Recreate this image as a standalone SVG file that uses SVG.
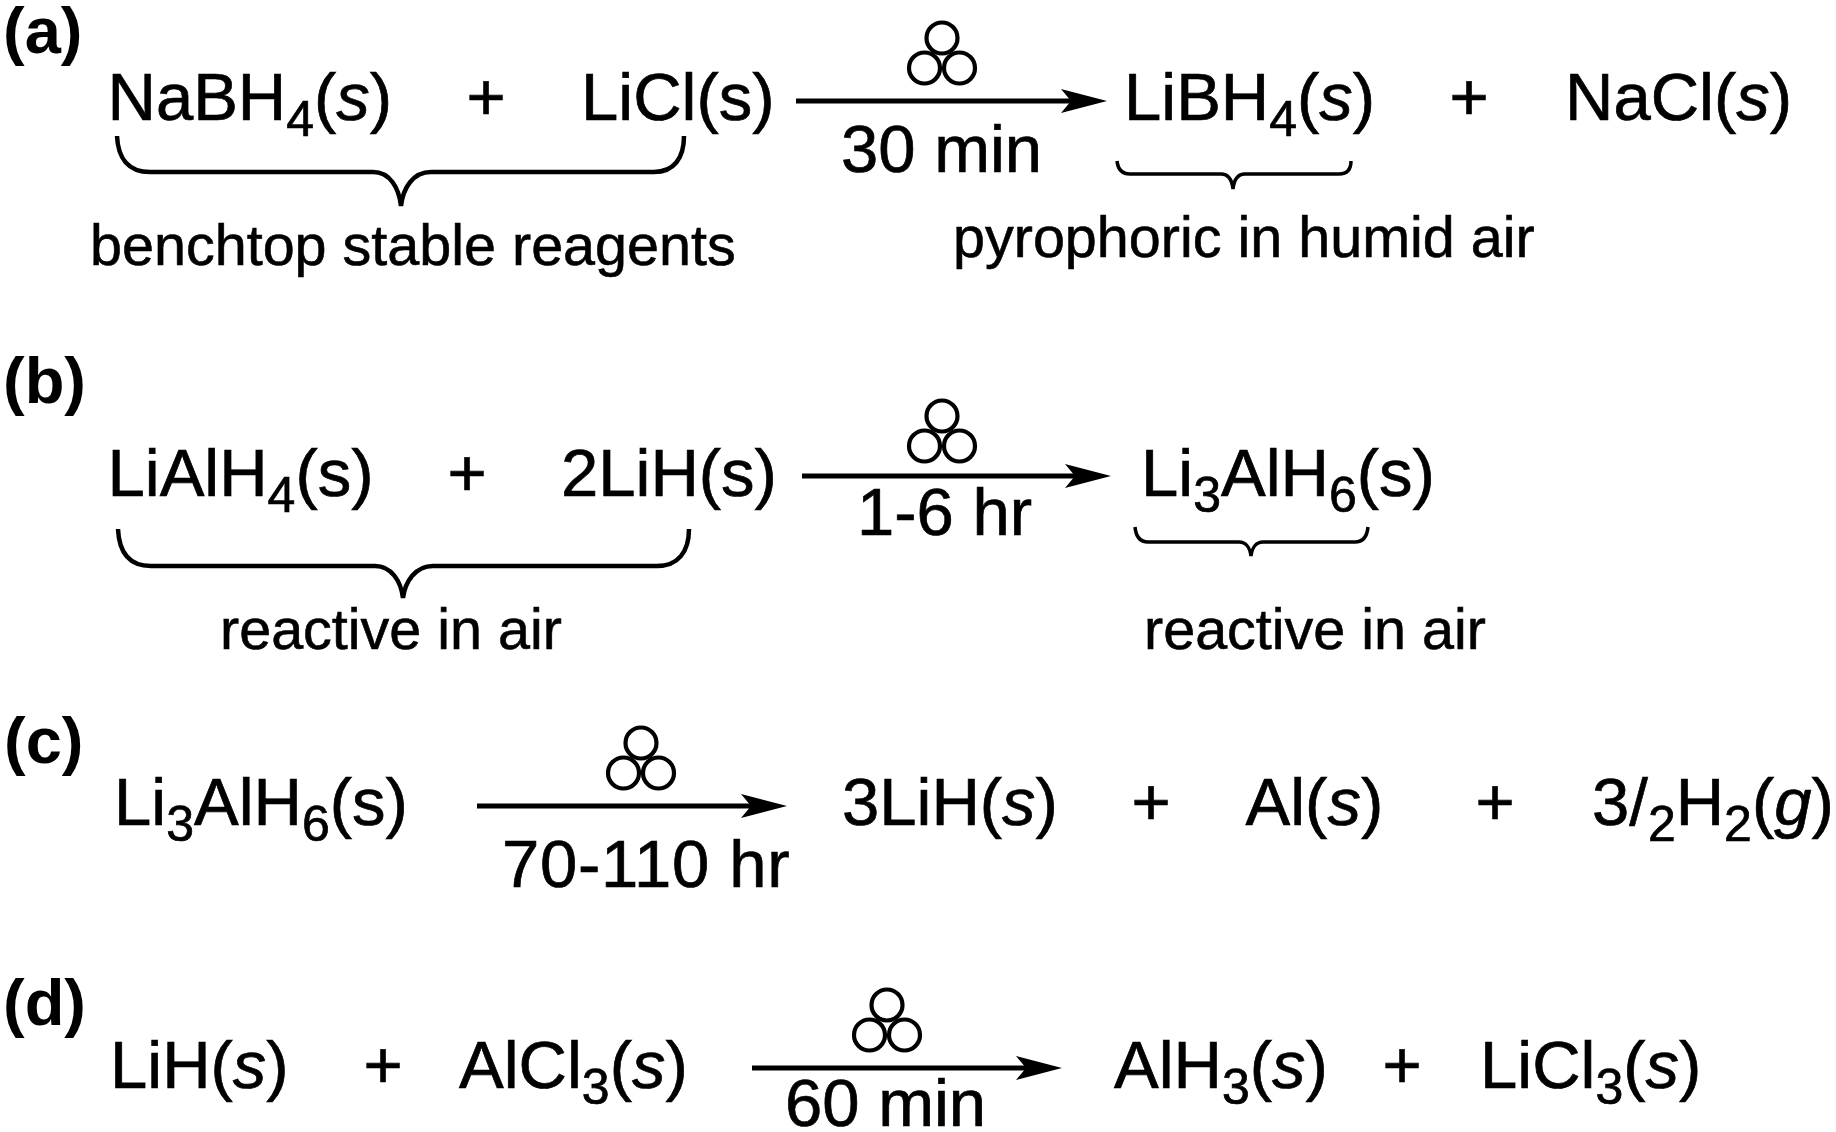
<svg xmlns="http://www.w3.org/2000/svg" width="1836" height="1132" viewBox="0 0 1836 1132">
<style>
text{font-family:"Liberation Sans",Arial,sans-serif;fill:#000}
.m{font-size:67px;stroke:#000;stroke-width:.7}
.n{font-size:57.5px;stroke:#000;stroke-width:.6}
.l{font-size:65px;font-weight:bold}
.sub{font-size:50px}
.i{font-style:italic}
.arrow{fill:none;stroke:#000;stroke-width:5;marker-end:url(#head)}
.brace{fill:none;stroke:#000;stroke-width:4.5}
.brace.thin{stroke-width:3.5}
.heat circle{fill:none;stroke:#000;stroke-width:4.2}
</style>
<defs>
<marker id="head" markerUnits="userSpaceOnUse" markerWidth="46" markerHeight="24" viewBox="0 0 46 24" refX="16" refY="12" orient="auto"><path d="M46,12 L0,0 L10,12 L0,24Z" fill="#000"/></marker>
<g id="heat" class="heat"><circle cx="0" cy="-21" r="15.5"/><circle cx="-17.5" cy="9" r="15.5"/><circle cx="17.5" cy="9" r="15.5"/></g>
</defs>
<rect width="1836" height="1132" fill="#fff"/>
<g id="connectors">
<path class="arrow" d="M796,101H1077"/>
<path class="arrow" d="M802,476H1081"/>
<path class="arrow" d="M477,806H757"/>
<path class="arrow" d="M752,1068H1032"/>
<path class="brace" d="M117,136C118,158 128,172 150,172H373C390,172 399,188 401,206C403,188 413,172 431,172H654C674,172 684,158 684,136"/>
<path class="brace thin" d="M1117,161C1118,170 1122,174 1130,174H1221C1228,174 1232,180 1233,189C1234,180 1238,174 1245,174H1339C1347,174 1351,170 1351,161"/>
<path class="brace" d="M118,529C119,552 129,566 151,566H375C392,566 401,582 403,598C405,582 415,566 433,566H657C678,566 689,552 689,529"/>
<path class="brace thin" d="M1135,527C1136,537 1140,542 1148,542H1239C1246,542 1250,548 1251,556C1252,548 1256,542 1263,542H1355C1363,542 1367,537 1368,527"/>
</g>
<g id="label-a"><text class="l" x="3" y="53">(a)</text></g>
<g id="label-b"><text class="l" x="3" y="403">(b)</text></g>
<g id="label-c"><text class="l" x="4" y="763">(c)</text></g>
<g id="label-d"><text class="l" x="3" y="1025">(d)</text></g>

<g id="a-nabh4"><text class="m" x="107.5" y="119.5">NaBH<tspan class="sub" dy="16">4</tspan><tspan dy="-16">(</tspan><tspan class="i">s</tspan>)</text></g>
<g id="a-plus1"><text class="m" x="486" y="119.5" text-anchor="middle">+</text></g>
<g id="a-licl"><text class="m" x="581" y="119.5">LiCl(s)</text></g>
<g id="a-heat"><use href="#heat" x="942" y="59"/></g>
<g id="a-time"><text class="m" x="841" y="172">30 min</text></g>
<g id="a-libh4"><text class="m" x="1124" y="119.5">LiBH<tspan class="sub" dy="16">4</tspan><tspan dy="-16">(</tspan><tspan class="i">s</tspan>)</text></g>
<g id="a-plus2"><text class="m" x="1469" y="119.5" text-anchor="middle">+</text></g>
<g id="a-nacl"><text class="m" x="1565" y="119.5">NaCl(<tspan class="i">s</tspan>)</text></g>
<g id="a-note1"><text class="n" x="90" y="265">benchtop stable reagents</text></g>
<g id="a-note2"><text class="n" x="953" y="257">pyrophoric in humid air</text></g>

<g id="b-lialh4"><text class="m" x="107.5" y="496">LiAlH<tspan class="sub" dy="16">4</tspan><tspan dy="-16">(s)</tspan></text></g>
<g id="b-plus"><text class="m" x="467" y="496" text-anchor="middle">+</text></g>
<g id="b-lih"><text class="m" x="561" y="496">2LiH(s)</text></g>
<g id="b-heat"><use href="#heat" x="942" y="437"/></g>
<g id="b-time"><text class="m" x="857" y="535">1-6 hr</text></g>
<g id="b-li3alh6"><text class="m" x="1141" y="496">Li<tspan class="sub" dy="16">3</tspan><tspan dy="-16">AlH</tspan><tspan class="sub" dy="16">6</tspan><tspan dy="-16">(s)</tspan></text></g>
<g id="b-note1"><text class="n" x="220" y="649">reactive in air</text></g>
<g id="b-note2"><text class="n" x="1144" y="649">reactive in air</text></g>

<g id="c-li3alh6"><text class="m" x="114" y="825">Li<tspan class="sub" dy="16">3</tspan><tspan dy="-16">AlH</tspan><tspan class="sub" dy="16">6</tspan><tspan dy="-16">(s)</tspan></text></g>
<g id="c-heat"><use href="#heat" x="641" y="764"/></g>
<g id="c-time"><text class="m" x="502" y="887" letter-spacing=".7">70-110 hr</text></g>
<g id="c-lih"><text class="m" x="842" y="825">3LiH(<tspan class="i">s</tspan>)</text></g>
<g id="c-plus1"><text class="m" x="1151" y="825" text-anchor="middle">+</text></g>
<g id="c-al"><text class="m" x="1245.5" y="825">Al(<tspan class="i">s</tspan>)</text></g>
<g id="c-plus2"><text class="m" x="1495" y="825" text-anchor="middle">+</text></g>
<g id="c-h2"><text class="m" x="1592" y="825">3/<tspan class="sub" dy="16">2</tspan><tspan dy="-16">H</tspan><tspan class="sub" dy="16">2</tspan><tspan dy="-16">(</tspan><tspan class="i">g</tspan>)</text></g>

<g id="d-lih"><text class="m" x="110" y="1087.5">LiH(<tspan class="i">s</tspan>)</text></g>
<g id="d-plus1"><text class="m" x="383" y="1087.5" text-anchor="middle">+</text></g>
<g id="d-alcl3"><text class="m" x="459" y="1087.5">AlCl<tspan class="sub" dy="16">3</tspan><tspan dy="-16">(</tspan><tspan class="i">s</tspan>)</text></g>
<g id="d-heat"><use href="#heat" x="887" y="1026"/></g>
<g id="d-time"><text class="m" x="785" y="1126">60 min</text></g>
<g id="d-alh3"><text class="m" x="1114" y="1087.5">AlH<tspan class="sub" dy="16">3</tspan><tspan dy="-16">(</tspan><tspan class="i">s</tspan>)</text></g>
<g id="d-plus2"><text class="m" x="1402" y="1087.5" text-anchor="middle">+</text></g>
<g id="d-licl3"><text class="m" x="1480" y="1087.5">LiCl<tspan class="sub" dy="16">3</tspan><tspan dy="-16">(</tspan><tspan class="i">s</tspan>)</text></g>
</svg>
